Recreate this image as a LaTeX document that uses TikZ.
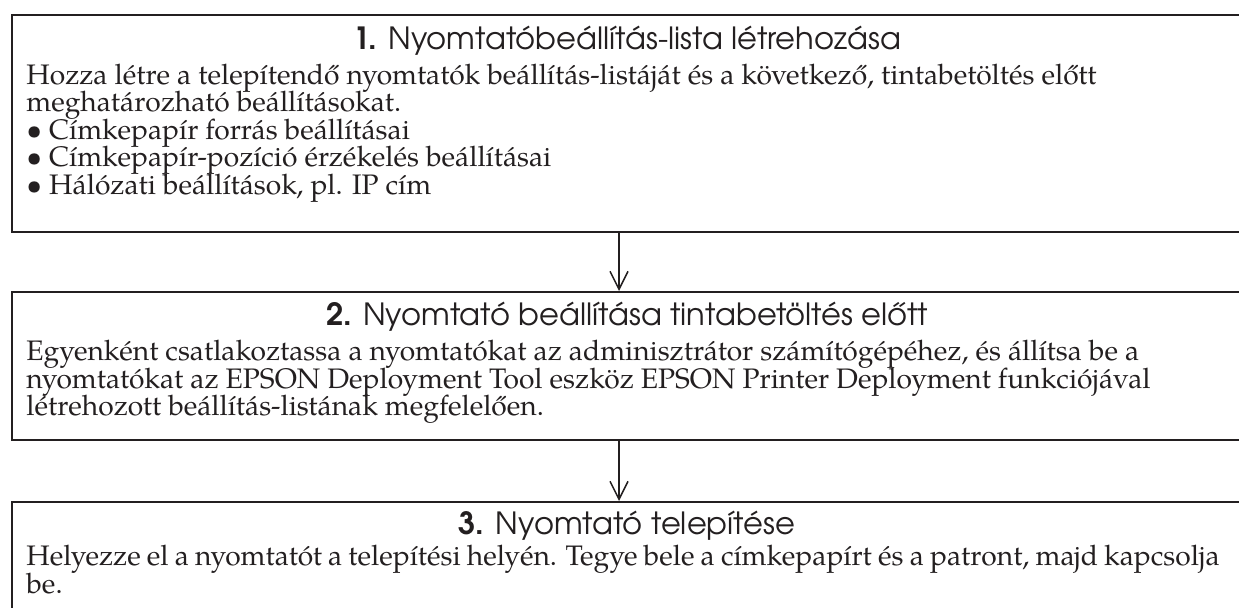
\documentclass[tikz,border=0pt]{standalone}
\usepackage{fontspec}
\setmainfont{texgyrepagella}[Extension=.otf, UprightFont=*-regular, BoldFont=*-bold, ItalicFont=*-italic]
\newfontfamily\headfont{texgyreadventor}[Extension=.otf, UprightFont=*-regular, BoldFont=*-bold]
\usetikzlibrary{arrows.meta}
\definecolor{ink}{HTML}{231F20}
\tikzset{
  stepbox/.style={draw=ink, line width=1pt, anchor=north west, inner sep=0pt, minimum width=616pt},
  head/.style={anchor=base, inner sep=0pt, text=ink, font=\headfont\fontsize{15.3}{17}\selectfont},
  body/.style={anchor=base west, inner sep=0pt, text=ink, font=\fontsize{14.1}{16}\selectfont},
  flow/.style={draw=ink, line width=0.75pt, -{Straight Barb[length=9pt, width=9pt, line width=0.75pt]}}
}
\begin{document}
\begin{tikzpicture}[x=0.5pt, y=-0.5pt]
\useasboundingbox (0,0) rectangle (1239,608);
\clip (0,0) rectangle (1239,608);
% boxes
\node[stepbox, minimum height=108.5pt] (box1) at (11,14) {};
\node[stepbox, minimum height=74pt] (box2) at (11,291) {};
\node[stepbox, minimum height=70pt] (box3) at (11,501) {};
% headings
\node[head] (h1) at (627,50) {\textbf{1.} Nyomtatóbeállítás-lista létrehozása};
\node[head] (h2) at (627,326) {\textbf{2.} Nyomtató beállítása tintabetöltés előtt};
\node[head] (h3) at (627,535) {\textbf{3.} Nyomtató telepítése};
% box 1 text
\node[body] (t11) at (26,85) {Hozza létre a telepítendő nyomtatók beállítás-listáját és a következő, tintabetöltés előtt};
\node[body] (t12) at (26,112) {meghatározható beállításokat.};
\node[body] (t13) at (26,139.5) {• Címkepapír forrás beállításai};
\node[body] (t14) at (26,167) {• Címkepapír-pozíció érzékelés beállításai};
\node[body] (t15) at (26,194.5) {• Hálózati beállítások, pl. IP cím};
% box 2 text
\node[body] (t21) at (26,361) {Egyenként csatlakoztassa a nyomtatókat az adminisztrátor számítógépéhez, és állítsa be a};
\node[body] (t22) at (26,388.5) {nyomtatókat az EPSON Deployment Tool eszköz EPSON Printer Deployment funkciójával};
\node[body] (t23) at (26,416) {létrehozott beállítás-listának megfelelően.};
% box 3 text
\node[body] (t31) at (26,566) {\spaceskip=0.22em plus 0.1em minus 0.05em Helyezze el a nyomtatót a telepítési helyén. Tegye bele a címkepapírt és a patront, majd kapcsolja};
\node[body] (t32) at (26,593.5) {be.};
% connectors
\coordinate (ax) at (619,0);
\draw[flow] (ax |- box1.south) -- (ax |- box2.north);
\draw[flow] (ax |- box2.south) -- (ax |- box3.north);
\end{tikzpicture}
\end{document}
